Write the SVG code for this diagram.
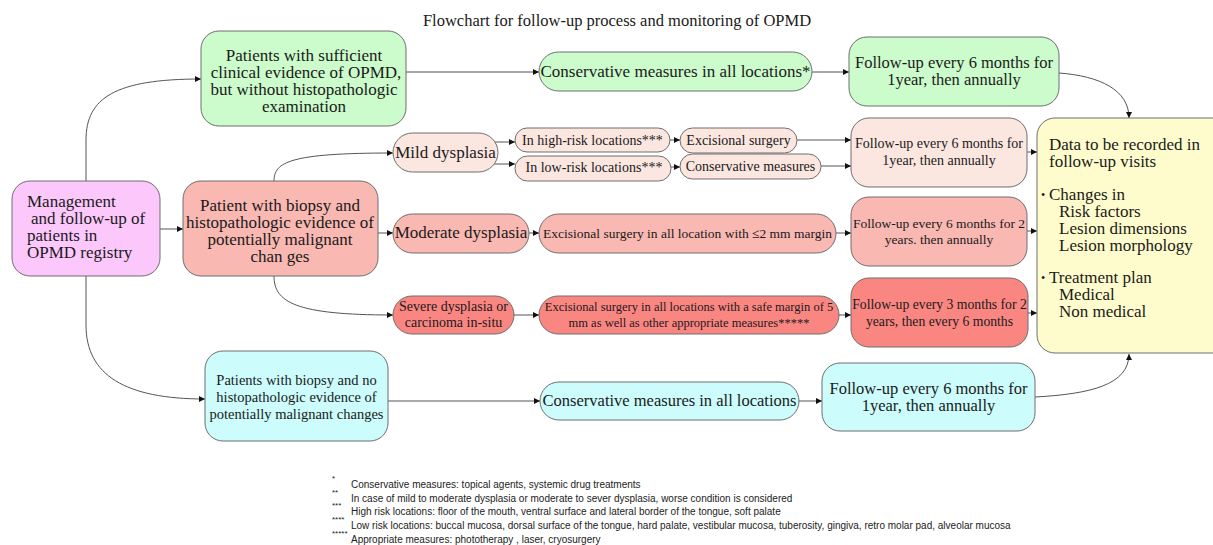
<svg xmlns="http://www.w3.org/2000/svg" width="1213" height="545" viewBox="0 0 1213 545">
<style>
.t{font-family:"Liberation Serif","Times New Roman",serif;fill:#1a1a1a}
.c{text-anchor:middle}
.b{stroke:#6e6e6e;stroke-width:1}
.e{fill:none;stroke:#555;stroke-width:1;marker-end:url(#ah)}
.f{font-family:"Liberation Sans",Arial,sans-serif;font-size:10px;fill:#222}
.fs{font-family:"Liberation Sans",Arial,sans-serif;font-size:8px;fill:#222}
</style>
<defs>
<marker id="ah" viewBox="0 0 10 10" refX="10" refY="5" markerWidth="9" markerHeight="6" orient="auto" markerUnits="userSpaceOnUse"><path d="M0,0 L10,5 L0,10 z" fill="#111"/></marker>
</defs>
<rect width="1213" height="545" fill="#fff"/>
<text class="t c" x="617" y="26" font-size="16.5">Flowchart for follow-up process and monitoring of OPMD</text>

<g id="connectors">
<path class="e" d="M86,181 L86,140 C86,98 115,79 201,79"/>
<path class="e" d="M160,229 L183,229"/>
<path class="e" d="M86,276 L86,325 C86,375 125,399 205,399"/>
<path class="e" d="M406,72 L539,72"/>
<path class="e" d="M812,72 L849,72"/>
<path class="e" d="M1059,73 C1100,76 1129,90 1129,118"/>
<path class="e" d="M274,181 C274,162 290,153 393,153"/>
<path class="e" d="M378,233 L393,233"/>
<path class="e" d="M274,276 C274,302 295,315 393,315"/>
<path class="e" d="M494,142 L515,142"/>
<path class="e" d="M494,164 L515,164"/>
<path class="e" d="M670,140 L680,140"/>
<path class="e" d="M671,167 L680,167"/>
<path class="e" d="M797,140 L851,140"/>
<path class="e" d="M821,166 L851,166"/>
<path class="e" d="M1027,152 L1037,152"/>
<path class="e" d="M529,233 L539,233"/>
<path class="e" d="M836,233 L851,233"/>
<path class="e" d="M1027,231 L1037,231"/>
<path class="e" d="M514,315 L539,315"/>
<path class="e" d="M839,315 L851,315"/>
<path class="e" d="M1028,313 L1037,313"/>
<path class="e" d="M388,401 L540,401"/>
<path class="e" d="M799,401 L822,401"/>
<path class="e" d="M1035,397 C1090,394 1129,385 1129,354"/>
</g>

<g id="n-mgmt">
<rect class="b" x="12" y="181" width="148" height="95" rx="18" fill="#fcc8fc"/>
<text class="t" font-size="17"><tspan x="27" y="207">Management</tspan><tspan x="31" y="224">and follow-up of</tspan><tspan x="27" y="241">patients in</tspan><tspan x="27" y="258">OPMD registry</tspan></text>
</g>

<g id="n-clinical">
<rect class="b" x="201" y="31" width="205" height="95" rx="18" fill="#ccfccc"/>
<text class="t c" font-size="17"><tspan x="304" y="61">Patients with sufficient</tspan><tspan x="306" y="78">clinical evidence of OPMD,</tspan><tspan x="304" y="95">but without histopathologic</tspan><tspan x="304" y="112">examination</tspan></text>
</g>

<g id="n-biopsy">
<rect class="b" x="183" y="181" width="195" height="95" rx="18" fill="#f9b8b2"/>
<text class="t c" font-size="17"><tspan x="280" y="211">Patient with biopsy and</tspan><tspan x="280" y="228">histopathologic evidence of</tspan><tspan x="280" y="245">potentially malignant</tspan><tspan x="280" y="262">chan ges</tspan></text>
</g>

<g id="n-nobiopsy">
<rect class="b" x="205" y="351" width="183" height="90" rx="18" fill="#ccfcfc"/>
<text class="t c" font-size="14.5"><tspan x="296.5" y="385">Patients with biopsy and no</tspan><tspan x="296.5" y="402">histopathologic evidence of</tspan><tspan x="296.5" y="419">potentially malignant changes</tspan></text>
</g>

<g id="n-cons-green">
<rect class="b" x="539" y="52" width="273" height="39" rx="19.5" fill="#ccfccc"/>
<text class="t c" x="675.5" y="77" font-size="17">Conservative measures in all locations*</text>
</g>

<g id="n-fu-green">
<rect class="b" x="849" y="37" width="210" height="69" rx="18" fill="#ccfccc"/>
<text class="t c" font-size="16.5"><tspan x="954" y="68">Follow-up every 6 months for</tspan><tspan x="954" y="85">1year, then annually</tspan></text>
</g>

<g id="n-mild">
<rect class="b" x="393" y="133" width="105" height="39" rx="19.5" fill="#fce6e0"/>
<text class="t c" x="445.5" y="158" font-size="17">Mild dysplasia</text>
</g>

<g id="n-high">
<rect class="b" x="515" y="128" width="155" height="24" rx="12" fill="#fce6e0"/>
<text class="t c" x="592.5" y="145" font-size="14">In high-risk locations***</text>
</g>

<g id="n-low">
<rect class="b" x="515" y="156" width="156" height="25" rx="12.5" fill="#fce6e0"/>
<text class="t c" x="594" y="172" font-size="14">In low-risk locations***</text>
</g>

<g id="n-exc">
<rect class="b" x="680" y="128" width="117" height="25" rx="12.5" fill="#fce6e0"/>
<text class="t c" x="738.5" y="145" font-size="14">Excisional surgery</text>
</g>

<g id="n-cons-pink">
<rect class="b" x="680" y="154" width="141" height="25" rx="12.5" fill="#fce6e0"/>
<text class="t c" x="750.5" y="171" font-size="14">Conservative measures</text>
</g>

<g id="n-fu-pink">
<rect class="b" x="851" y="118" width="176" height="69" rx="18" fill="#fce6e0"/>
<text class="t c" font-size="14"><tspan x="939" y="148">Follow-up every 6 months for</tspan><tspan x="939" y="165">1year, then annually</tspan></text>
</g>

<g id="n-moderate">
<rect class="b" x="393" y="214" width="136" height="39" rx="19.5" fill="#f9b8b2"/>
<text class="t c" x="461" y="238" font-size="17">Moderate dysplasia</text>
</g>

<g id="n-exc2">
<rect class="b" x="539" y="214" width="297" height="39" rx="19.5" fill="#f9b8b2"/>
<text class="t c" x="687.5" y="238" font-size="13.5">Excisional surgery in all location with ≤2 mm margin</text>
</g>

<g id="n-fu-salmon">
<rect class="b" x="851" y="197" width="176" height="69" rx="18" fill="#f9b8b2"/>
<text class="t c" font-size="13.5"><tspan x="939" y="228">Follow-up every 6 months for 2</tspan><tspan x="939" y="244">years. then annually</tspan></text>
</g>

<g id="n-severe">
<rect class="b" x="393" y="296" width="121" height="38" rx="19" fill="#fa8682"/>
<text class="t c" font-size="14"><tspan x="453.5" y="311">Severe dysplasia or</tspan><tspan x="453.5" y="327">carcinoma in-situ</tspan></text>
</g>

<g id="n-exc3">
<rect class="b" x="539" y="296" width="300" height="38" rx="19" fill="#fa8682"/>
<text class="t c" font-size="12.5"><tspan x="689" y="311">Excisional surgery in all locations with a safe margin of 5</tspan><tspan x="689" y="327">mm as well as other appropriate measures*****</tspan></text>
</g>

<g id="n-fu-red">
<rect class="b" x="851" y="278" width="177" height="69" rx="18" fill="#fa8682"/>
<text class="t c" font-size="13.7"><tspan x="939.5" y="309">Follow-up every 3 months for 2</tspan><tspan x="939.5" y="326">years, then every 6 months</tspan></text>
</g>

<g id="n-cons-cyan">
<rect class="b" x="540" y="382" width="259" height="38" rx="19" fill="#ccfcfc"/>
<text class="t c" x="669.5" y="406" font-size="16.5">Conservative measures in all locations</text>
</g>

<g id="n-fu-cyan">
<rect class="b" x="822" y="363" width="213" height="68" rx="18" fill="#ccfcfc"/>
<text class="t c" font-size="16.5"><tspan x="928.5" y="394">Follow-up every 6 months for</tspan><tspan x="928.5" y="411">1year, then annually</tspan></text>
</g>

<g id="n-data">
<rect class="b" x="1037" y="118" width="200" height="235" rx="18" fill="#fefccc"/>
<text class="t" font-size="17"><tspan x="1049" y="150">Data to be recorded in</tspan><tspan x="1049" y="167">follow-up visits</tspan><tspan x="1049" y="200">Changes in</tspan><tspan x="1059" y="217">Risk factors</tspan><tspan x="1059" y="234">Lesion dimensions</tspan><tspan x="1059" y="251">Lesion morphology</tspan><tspan x="1049" y="283">Treatment plan</tspan><tspan x="1059" y="300">Medical</tspan><tspan x="1059" y="317">Non medical</tspan></text>
<text class="t" font-size="12"><tspan x="1041" y="199">•</tspan><tspan x="1041" y="282">•</tspan></text>
</g>

<g id="footnotes">
<text class="fs" x="332" y="481">*</text>
<text class="f" x="351" y="488">Conservative measures: topical agents, systemic drug treatments</text>
<text class="fs" x="332" y="495">**</text>
<text class="f" x="351" y="502">In case of mild to moderate dysplasia or moderate to sever dysplasia, worse condition is considered</text>
<text class="fs" x="332" y="508">***</text>
<text class="f" x="351" y="515">High risk locations: floor of the mouth, ventral surface and lateral border of the tongue, soft palate</text>
<text class="fs" x="332" y="522">****</text>
<text class="f" x="351" y="529">Low risk locations: buccal mucosa, dorsal surface of the tongue, hard palate, vestibular mucosa, tuberosity, gingiva, retro molar pad, alveolar mucosa</text>
<text class="fs" x="332" y="536">*****</text>
<text class="f" x="351" y="543">Appropriate measures: phototherapy , laser, cryosurgery</text>
</g>
</svg>
